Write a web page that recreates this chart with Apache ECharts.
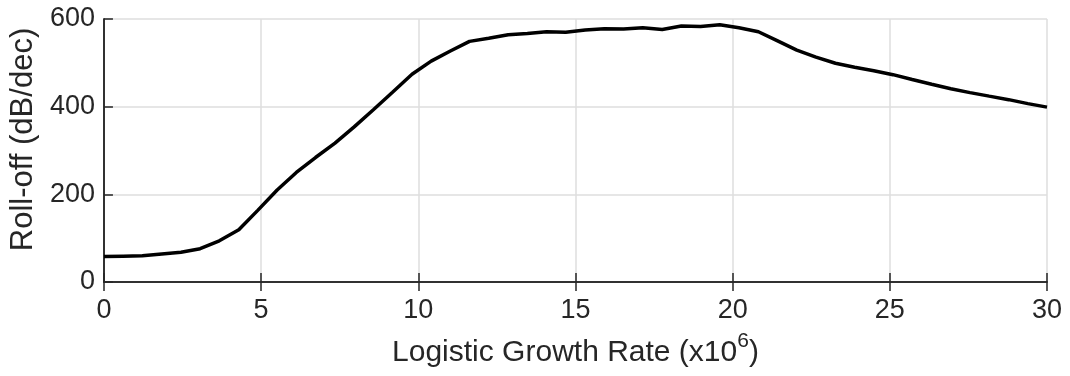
<!DOCTYPE html>
<html><head><meta charset="utf-8">
<script src="https://cdn.jsdelivr.net/npm/echarts@6/dist/echarts.min.js"></script>
<style>html,body{margin:0;padding:0;background:#fff}#c{width:1070px;height:376px}</style>
</head><body><div id="c"></div>
<script>
const growthRate = [0, 0.61, 1.22, 1.84, 2.45, 3.06, 3.67, 4.29, 4.90, 5.51, 6.12, 6.73, 7.35, 7.96, 8.57, 9.18, 9.80, 10.41, 11.02, 11.63, 12.24, 12.86, 13.47, 14.08, 14.69, 15.31, 15.92, 16.53, 17.14, 17.76, 18.37, 18.98, 19.59, 20.20, 20.82, 21.43, 22.04, 22.65, 23.27, 23.88, 24.49, 25.10, 25.71, 26.33, 26.94, 27.55, 28.16, 28.78, 29.39, 30.00];
const rollOff = [58, 59, 60, 64, 68, 76, 94, 119, 164, 210, 250, 284, 317, 354, 393, 433, 474, 504, 527, 549, 556, 564, 567, 571, 570, 575, 578, 577, 580, 576, 584, 583, 587, 580, 571, 550, 529, 513, 499, 490, 482, 473, 462, 451, 441, 432, 424, 416, 407, 399];
const xTicks = [0, 5, 10, 15, 20, 25, 30];
const yTicks = [0, 200, 400, 600];

const txt = '#262626';
const font = 'Liberation Sans, Arial, Helvetica, sans-serif';
const axisLine = { show: true, lineStyle: { color: txt, width: 1.5 } };
const axisTick = { show: true, inside: true, length: 9, lineStyle: { color: txt, width: 1.5 } };
const gridLine = { show: true, lineStyle: { color: '#dedede', width: 1.5 } };
const chart = echarts.init(document.getElementById('c'), null, { renderer: 'canvas' });
chart.setOption({
  animation: false,
  backgroundColor: '#fff',
  grid: { left: 102, right: 23, top: 19, bottom: 94, containLabel: false },
  xAxis: [{
    type: 'value', min: xTicks[0], max: xTicks[xTicks.length - 1], interval: 5, position: 'bottom',
    axisLine, axisTick,
    axisLabel: { color: txt, fontSize: 27, fontFamily: font, margin: 15 },
    splitLine: gridLine,
    name: '{a|Logistic Growth Rate (x10}{s|6}{a|)}',
    nameLocation: 'middle', nameGap: 49,
    nameTextStyle: { rich: {
      a: { fontSize: 30, color: txt, fontFamily: font },
      s: { fontSize: 21, color: txt, fontFamily: font, verticalAlign: 'bottom', padding: [0, 0, 22, 0] }
    } }
  }, {
    type: 'value', min: 0, max: 30, interval: 5, position: 'top',
    axisLine, axisTick, axisLabel: { show: false }, splitLine: { show: false }
  }],
  yAxis: [{
    type: 'value', min: yTicks[0], max: yTicks[yTicks.length - 1], interval: 200, position: 'left',
    axisLine, axisTick,
    axisLabel: { color: txt, fontSize: 27, fontFamily: font, margin: 9 },
    splitLine: gridLine,
    name: 'Roll-off (dB/dec)', nameLocation: 'middle', nameGap: 64, nameRotate: 90,
    nameTextStyle: { fontSize: 31, color: txt, fontFamily: font, padding: [0, 0, 0, 22] }
  }, {
    type: 'value', min: 0, max: 600, interval: 200, position: 'right',
    axisLine, axisTick: { show: false }, axisLabel: { show: false }, splitLine: { show: false }
  }],
  series: [{
    type: 'line', xAxisIndex: 0, yAxisIndex: 0,
    data: growthRate.map((x, i) => [x, rollOff[i]]),
    showSymbol: false, symbol: 'none',
    lineStyle: { color: '#000', width: 3.5 },
    clip: true
  }]
});
</script></body></html>
